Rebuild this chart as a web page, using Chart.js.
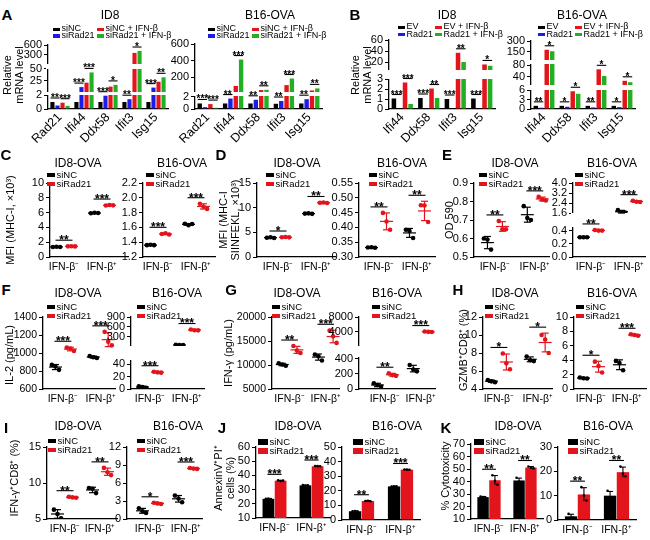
<!DOCTYPE html>
<html><head><meta charset="utf-8">
<script src="https://cdn.jsdelivr.net/npm/chart.js@4.4.1/dist/chart.umd.min.js"></script>
<style>
html,body{margin:0;padding:0;background:#fff;}
body{position:relative;width:650px;height:540px;overflow:hidden;font-family:'Liberation Sans',Arial,Helvetica,sans-serif;color:#000;}
canvas{position:absolute;}
.t{position:absolute;white-space:pre;line-height:1.05;text-align:center;}
.m{position:absolute;}
</style></head><body>
<script>
// ================= DATA =================
const GROUPS = ['IFN-\u03B2\u207B', 'IFN-\u03B2\u207A'];
const CONDS = ['siNC', 'siRad21'];

const A_GENES = ['Rad21', 'Ifi44', 'Ddx58', 'Ifit3', 'Isg15'];
const A_CONDS = ['siNC', 'siRad21', 'siNC + IFN-\u03B2', 'siRad21 + IFN-\u03B2'];
const A_ID8_siNC        = [1.0, 1.0, 1.0, 1.0, 1.0];
const A_ID8_siRad21     = [0.5, 12, 1.9, 1.4, 11];
const A_ID8_siNC_IFN    = [0.9, 21, 13, 350, 23];
const A_ID8_siRad21_IFN = [0.45, 42, 16.5, 410, 32];
const A_ID8_SIG   = [['**', '***'], ['***', '***'], ['***', '*'], ['**', '*'], ['***', '**']];
const A_ID8_TICKS = [0, 2, 25, 50, 300, 600];
const A_B16_siNC        = [0.9, 0.9, 0.9, 0.85, 0.9];
const A_B16_siRad21     = [0.3, 1.7, 1.5, 1.3, 1.6];
const A_B16_siNC_IFN    = [0.8, 95, 45, 105, 40];
const A_B16_siRad21_IFN = [0.2, 415, 48, 185, 65];
const A_B16_SIG   = [['***', '***'], ['**', '***'], ['**', '**'], ['**', '***'], ['**', '**']];
const A_B16_TICKS = [0, 2, 200, 400, 600];

const B_GENES = ['Ifi44', 'Ddx58', 'Ifit3', 'Isg15'];
const B_CONDS = ['EV', 'Rad21', 'EV + IFN-\u03B2', 'Rad21 + IFN-\u03B2'];
const B_ID8_EV        = [1.05, 1.1, 1.0, 1.05];
const B_ID8_Rad21     = [0.05, 0.06, 0.05, 0.05];
const B_ID8_EV_IFN    = [2.65, 2.05, 37, 15.5];
const B_ID8_Rad21_IFN = [0.5, 1.1, 20, 13];
const B_ID8_SIG   = [['***', '***'], ['***', '**'], ['***', '**'], ['***', '*']];
const B_ID8_TICKS = [0, 1, 2, 3, 20, 40, 60];
const B_B16_EV        = [1.0, 1.0, 1.0, 1.0];
const B_B16_Rad21     = [0.4, 0.7, 0.5, 0.6];
const B_B16_EV_IFN    = [180, 5.6, 66, 25];
const B_B16_Rad21_IFN = [160, 4.8, 42, 20];
const B_B16_SIG   = [['**', '*'], ['*', '*'], ['**', '*'], ['*', '*']];
const B_B16_TICKS = [0, 3, 6, 40, 80, 150, 300];

// replicates: [IFN-β⁻ triplicate, IFN-β⁺ triplicate]
const C_ID8_siNC    = [[1.35, 1.38, 1.36], [5.92, 5.97, 5.95]];
const C_ID8_siRad21 = [[1.44, 1.46, 1.43], [6.95, 7.02, 6.98]];
const C_ID8_TICKS = [0, 2, 4, 6, 8, 10];
const C_ID8_SIG = ['**', '***'];
const C_B16_siNC    = [[1.36, 1.365, 1.36], [1.65, 1.63, 1.645]];
const C_B16_siRad21 = [[1.51, 1.52, 1.505], [1.92, 1.88, 1.85]];
const C_B16_TICKS = [1.2, 1.4, 1.6, 1.8, 2.0, 2.2];
const C_B16_SIG = ['***', '***'];

const D_ID8_siNC    = [[3.9, 4.0, 3.85], [8.8, 8.85, 8.75]];
const D_ID8_siRad21 = [[4.0, 4.05, 3.98], [11.0, 11.05, 10.95]];
const D_ID8_TICKS = [0, 5, 10, 15];
const D_ID8_SIG = ['*', '**'];
const D_B16_siNC    = [[0.332, 0.333, 0.331], [0.392, 0.388, 0.364]];
const D_B16_siRad21 = [[0.449, 0.42, 0.392], [0.475, 0.474, 0.418]];
const D_B16_TICKS = [0.30, 0.35, 0.40, 0.45, 0.50, 0.55];
const D_B16_SIG = ['**', '**'];

const E_ID8_siNC    = [[0.60, 0.594, 0.54], [0.775, 0.711, 0.70]];
const E_ID8_siRad21 = [[0.695, 0.65, 0.65], [0.825, 0.81, 0.806]];
const E_ID8_TICKS = [0.5, 0.6, 0.7, 0.8, 0.9];
const E_ID8_SIG = ['**', '***'];
const E_B16_siNC    = [[0.30, 0.30, 0.30], [1.85, 1.68, 1.65]];
const E_B16_siRad21 = [[0.41, 0.40, 0.40], [2.6, 2.52, 2.5]];
const E_B16_TICKS = [0, 0.2, 0.4, 1.6, 2.4, 3.2, 4.0];
const E_B16_SIG = ['**', '***'];

const F_ID8_siNC    = [[868, 850, 813], [967, 952, 945]];
const F_ID8_siRad21 = [[1060, 1050, 1022], [1235, 1125, 1085]];
const F_ID8_TICKS = [600, 800, 1000, 1200, 1400];
const F_ID8_SIG = ['***', '***'];
const F_B16_siNC    = [[4.5, 3, 2], [55, 50, 48]];
const F_B16_siRad21 = [[28, 27, 26.5], [520, 500, 495]];
const F_B16_TICKS = [0, 20, 40, 300, 600, 900];
const F_B16_SIG = ['***', '***'];

const G_ID8_siNC    = [[10350, 10100, 9850], [12200, 11800, 10950]];
const G_ID8_siRad21 = [[13950, 13000, 12500], [17200, 16000, 14600]];
const G_ID8_TICKS = [5000, 10000, 15000, 20000];
const G_ID8_SIG = ['**', '***'];
const G_B16_siNC    = [[76, 53, 31], [320, 260, 235]];
const G_B16_siRad21 = [[210, 185, 175], [4080, 4000, 3980]];
const G_B16_TICKS = [0, 200, 400, 4000, 8000];
const G_B16_SIG = ['**', '***'];

const H_ID8_siNC    = [[5.0, 4.85, 4.75], [7.6, 7.2, 7.1]];
const H_ID8_siRad21 = [[7.95, 6.85, 6.2], [10.0, 9.5, 8.0]];
const H_ID8_TICKS = [4, 6, 8, 10, 12];
const H_ID8_SIG = ['*', '*'];
const H_B16_siNC    = [[1.6, 1.5, 1.45], [3.9, 3.6, 2.6]];
const H_B16_siRad21 = [[3.8, 3.2, 2.3], [7.6, 7.5, 7.4]];
const H_B16_TICKS = [0, 2, 4, 6, 8, 10];
const H_B16_SIG = ['*', '***'];

const I_ID8_siNC    = [[6.3, 5.7, 5.1], [9.3, 9.2, 8.6]];
const I_ID8_siRad21 = [[8.1, 8.0, 7.95], [12.1, 11.5, 11.1]];
const I_ID8_TICKS = [5, 10, 15];
const I_ID8_SIG = ['**', '**'];
const I_B16_siNC    = [[1.8, 1.3, 1.0], [3.9, 3.4, 2.8]];
const I_B16_siRad21 = [[2.7, 2.6, 2.5], [8.5, 8.4, 8.35]];
const I_B16_TICKS = [0, 3, 6, 9, 12];
const I_B16_SIG = ['*', '***'];

const J_ID8_siNC    = [[23.5, 23.7, 23.3], [33.2, 32.8, 33.0]];
const J_ID8_siRad21 = [[36.5, 36.0, 36.3], [46.6, 46.5, 46.4]];
const J_ID8_TICKS = [10, 20, 30, 40, 50, 60];
const J_ID8_SIG = ['***', '***'];
const J_B16_siNC    = [[6.0, 6.1, 5.9], [22.9, 23.0, 23.1]];
const J_B16_siRad21 = [[13.0, 13.2, 12.8], [34.6, 34.5, 34.4]];
const J_B16_TICKS = [0, 10, 20, 30, 40, 50];
const J_B16_SIG = ['**', '***'];

const K_ID8_siNC    = [[28, 27.5, 27], [43, 40, 39.5]];
const K_ID8_siRad21 = [[45, 40.5, 37.5], [52, 51, 50.5]];
const K_ID8_TICKS = [10, 20, 30, 40, 50, 60, 70];
const K_ID8_SIG = ['**', '**'];
const K_B16_siNC    = [[2.5, 1, 1], [12, 9, 9]];
const K_B16_siRad21 = [[13.5, 10, 8], [22, 19, 18]];
const K_B16_TICKS = [0, 10, 20, 30];
const K_B16_SIG = ['**', '**'];

// ================= STYLE / HELPERS =================
const FONT = "'Liberation Sans', Arial, Helvetica, sans-serif";
const BLK = '#000', RED = '#e3141b', BLUE = '#1c1ce6', GREEN = '#22b022';
const COL4 = [BLK, BLUE, RED, GREEN];
const COL2 = [BLK, RED];
const TICK_FS = 11;

Chart.defaults.font.family = FONT;
Chart.defaults.color = '#000';
Chart.defaults.animation = false;
Chart.defaults.responsive = false;
Chart.defaults.maintainAspectRatio = false;
Chart.defaults.devicePixelRatio = 1;
Chart.defaults.events = [];
Chart.defaults.plugins.legend.display = false;
Chart.defaults.plugins.tooltip.enabled = false;

const Base = Chart.LinearScale || Chart.registry.getScale('linear');
class BrokenScale extends Base {
  getPixelForValue(v) {
    const S = this.chart.canvas._segs;
    if (!S || v === null || v === undefined || isNaN(v)) return super.getPixelForValue(v);
    let d = 0;
    for (let i = 0; i < S.length; i++) {
      const a = S[i];
      if (v <= a.max || i === S.length - 1) {
        if (i > 0 && v < a.min) d = S[i - 1].to;
        else d = a.from + (v - a.min) / (a.max - a.min) * (a.to - a.from);
        break;
      }
    }
    return this.getPixelForDecimal(d);
  }
}
BrokenScale.id = 'broken';
BrokenScale.defaults = Base.defaults;
Chart.register(BrokenScale);

const mean = a => a.reduce((s, v) => s + v, 0) / a.length;
const sdev = a => { const m = mean(a); return Math.sqrt(a.reduce((s, v) => s + (v - m) * (v - m), 0) / (a.length - 1)); };
function line(ctx, x0, y0, x1, y1) { ctx.beginPath(); ctx.moveTo(x0, y0); ctx.lineTo(x1, y1); ctx.stroke(); }
function drawSig(ctx, x0, x1, y, lab, fs) {
  ctx.strokeStyle = '#000'; ctx.lineWidth = 1.1;
  line(ctx, x0, y, x1, y);
  ctx.fillStyle = '#000'; ctx.font = 'bold ' + fs + 'px ' + FONT;
  ctx.textAlign = 'center'; ctx.textBaseline = 'alphabetic';
  ctx.fillText(lab, (x0 + x1) / 2, y + fs * 0.42 - 1.2);
}

function place(L, R, T, B, hX, padTop = 14, padRight = 5, wY = 40) {
  L = Math.round(L); R = Math.round(R); T = Math.round(T); B = Math.round(B);
  const c = document.createElement('canvas');
  const w = wY + (R - L) + padRight, h = padTop + (B - T) + hX;
  c.width = w; c.height = h;
  c.style.left = (L - wY) + 'px'; c.style.top = (T - padTop) + 'px';
  c.style.width = w + 'px'; c.style.height = h + 'px';
  document.body.appendChild(c);
  return { c, L, R, T, B, hX, padTop, padRight, wY };
}
function setSegs(g, segs) {
  if (!segs) return;
  const H = g.B - g.T;
  g.c._segs = segs.map(s => ({ min: s[0], max: s[1], from: (g.B - s[2]) / H, to: (g.B - s[3]) / H }));
}
function extras(draw) {
  return { id: 'extras', afterDatasetsDraw(chart) {
    const ctx = chart.ctx, ca = chart.chartArea, S = chart.canvas._segs;
    ctx.save();
    if (S) {
      const H = ca.bottom - ca.top;
      for (let i = 0; i < S.length - 1; i++) {
        const yLow = ca.bottom - S[i].to * H, yUp = ca.bottom - S[i + 1].from * H;
        ctx.clearRect(ca.left - 2, yUp, ca.right - ca.left + 4, yLow - yUp);
      }
    }
    if (draw) draw(chart, ctx, chart.scales.x, chart.scales.y);
    ctx.restore();
  } };
}
function yAxis(g, ticks, dec, segs, fs) {
  return {
    type: segs ? 'broken' : 'linear',
    min: segs ? segs[0][0] : ticks[0],
    max: segs ? segs[segs.length - 1][1] : ticks[ticks.length - 1],
    afterBuildTicks: s => { s.ticks = ticks.map(v => ({ value: v })); },
    afterFit: s => { s.width = g.wY; },
    ticks: { autoSkip: false, padding: 2, color: '#000', font: { size: fs }, callback: v => Number(v).toFixed(dec) },
    grid: { display: true, drawOnChartArea: false, drawTicks: true, tickLength: 4, color: '#000', lineWidth: 1 },
    border: { display: true, color: '#000', width: 1.3 }
  };
}
function layoutPad(g) { return { padding: { top: g.padTop, right: g.padRight, left: 0, bottom: 0 } }; }

// ---- 4-series grouped bars (A, B)
function barChart4(geo, labels, series, ticks, segs, sigs) {
  const [L, R, T, B] = geo;
  const g = place(L, R, T, B, 40);
  setSegs(g, segs);
  const draw = (chart, ctx, xs, ys) => {
    sigs.forEach((pair, ci) => {
      [[0, 1], [2, 3]].forEach(([a, b], k) => {
        const lab = pair[k]; if (!lab) return;
        const ea = chart.getDatasetMeta(a).data[ci], eb = chart.getDatasetMeta(b).data[ci];
        const top = Math.max(series[a][ci], series[b][ci]);
        const y = ys.getPixelForValue(top) - 4;
        drawSig(ctx, ea.x - 2, eb.x + 2, y, lab, 10);
      });
    });
  };
  new Chart(g.c, {
    type: 'bar',
    data: { labels, datasets: series.map((d, i) => ({ data: d, backgroundColor: COL4[i], borderWidth: 0, categoryPercentage: 0.84, barPercentage: 0.82 })) },
    options: {
      layout: layoutPad(g),
      scales: {
        x: { type: 'category', afterFit: s => { s.height = g.hX; },
             ticks: { autoSkip: false, minRotation: 45, maxRotation: 45, padding: 1, color: '#000', font: { size: 12.5 } },
             grid: { display: false, drawTicks: false }, border: { display: true, color: '#000', width: 1.3 } },
        y: yAxis(g, ticks, 0, segs, TICK_FS)
      }
    },
    plugins: [extras(draw)]
  });
}

// ---- dot plots (C–I)
function dotChart(geo, series, ticks, dec, segs, sigs, fs = TICK_FS) {
  const [L, R, T, B, g0, g1] = geo;
  const g = place(L, R, T, B, 22);
  setSegs(g, segs);
  const sp = g1 - g0, co = 7.5 / sp, jo = 3.6 / sp;
  const xmin = -(g0 - L) / sp, xmax = 1 + (R - g1) / sp;
  const datasets = series.map((ser, c) => ({
    data: ser.flatMap((reps, gi) => reps.map((v, k) => ({ x: gi + (c ? 1 : -1) * co + (k - 1) * jo, y: v }))),
    backgroundColor: COL2[c], borderColor: COL2[c], borderWidth: 0, pointRadius: 2.3
  }));
  const draw = (chart, ctx, xs, ys) => {
    ctx.lineWidth = 1.2;
    series.forEach((ser, c) => ser.forEach((reps, gi) => {
      const m = mean(reps), s = sdev(reps), cx = xs.getPixelForValue(gi + (c ? 1 : -1) * co);
      const ym = ys.getPixelForValue(m), yt = ys.getPixelForValue(m + s), yb = ys.getPixelForValue(m - s);
      ctx.strokeStyle = COL2[c];
      line(ctx, cx - 6.5, ym, cx + 6.5, ym);
      line(ctx, cx, yt, cx, yb);
      line(ctx, cx - 3.5, yt, cx + 3.5, yt);
      line(ctx, cx - 3.5, yb, cx + 3.5, yb);
    }));
    sigs.forEach((lab, gi) => {
      let top = -Infinity;
      series.forEach(ser => { const r = ser[gi]; top = Math.max(top, ...r, mean(r) + sdev(r)); });
      const y = ys.getPixelForValue(top) - 6;
      drawSig(ctx, xs.getPixelForValue(gi - co) - 1, xs.getPixelForValue(gi + co) + 1, y, lab, 12);
    });
  };
  new Chart(g.c, {
    type: 'scatter',
    data: { datasets },
    options: {
      layout: layoutPad(g),
      scales: {
        x: { type: 'linear', min: xmin, max: xmax,
             afterBuildTicks: s => { s.ticks = [{ value: 0 }, { value: 1 }]; },
             afterFit: s => { s.height = g.hX; },
             ticks: { autoSkip: false, minRotation: 0, maxRotation: 0, padding: 4, color: '#000', font: { size: 10.5 }, callback: (v, i) => GROUPS[i] },
             grid: { display: false, drawTicks: false }, border: { display: true, color: '#000', width: 1.3 } },
        y: yAxis(g, ticks, dec, segs, fs)
      }
    },
    plugins: [extras(draw)]
  });
}

// ---- 2-series bars with replicate dots (J, K)
function barChart2(geo, series, ticks, sigs) {
  const [L, R, T, B] = geo;
  const g = place(L, R, T, B, 22);
  const draw = (chart, ctx, xs, ys) => {
    ctx.lineWidth = 1.1; ctx.strokeStyle = '#000'; ctx.fillStyle = '#000';
    series.forEach((ser, c) => ser.forEach((reps, gi) => {
      const el = chart.getDatasetMeta(c).data[gi], cx = el.x;
      const m = mean(reps), s = sdev(reps);
      const yt = ys.getPixelForValue(m + s), yb = ys.getPixelForValue(m - s);
      line(ctx, cx, yt, cx, yb); line(ctx, cx - 3, yt, cx + 3, yt);
      reps.forEach((v, k) => { ctx.beginPath(); ctx.arc(cx + (k - 1) * 2.5, ys.getPixelForValue(v), 1.3, 0, Math.PI * 2); ctx.fill(); });
    }));
    sigs.forEach((lab, gi) => {
      let top = -Infinity;
      series.forEach(ser => { const r = ser[gi]; top = Math.max(top, ...r, mean(r) + sdev(r)); });
      const y = ys.getPixelForValue(top) - 6;
      const e0 = chart.getDatasetMeta(0).data[gi], e1 = chart.getDatasetMeta(1).data[gi];
      drawSig(ctx, e0.x - 1, e1.x + 1, y, lab, 12);
    });
  };
  new Chart(g.c, {
    type: 'bar',
    data: { labels: GROUPS, datasets: series.map((ser, c) => ({ data: ser.map(mean), backgroundColor: COL2[c], borderWidth: 0, categoryPercentage: 0.66, barPercentage: 0.96 })) },
    options: {
      layout: layoutPad(g),
      scales: {
        x: { type: 'category', afterFit: s => { s.height = g.hX; },
             ticks: { autoSkip: false, minRotation: 0, maxRotation: 0, padding: 4, color: '#000', font: { size: 10.5 } },
             grid: { display: false, drawTicks: false }, border: { display: true, color: '#000', width: 1.3 } },
        y: yAxis(g, ticks, 0, null, TICK_FS)
      }
    },
    plugins: [extras(draw)]
  });
}

// ---- HTML text helpers
function txt(s, x, y, size, opt = {}) {
  const d = document.createElement('div');
  d.className = 't'; d.textContent = s;
  d.style.fontSize = size + 'px';
  d.style.left = x + 'px'; d.style.top = y + 'px';
  if (opt.bold) d.style.fontWeight = 'bold';
  if (opt.lh) d.style.lineHeight = opt.lh + 'px';
  d.style.transform = opt.rot ? 'translate(-50%,-50%) rotate(-90deg)' : (opt.left ? 'translate(0,-50%)' : 'translate(-50%,-50%)');
  if (opt.left) d.style.textAlign = 'left';
  document.body.appendChild(d);
}
function mark(x, y, w, h, col) {
  const d = document.createElement('div');
  d.className = 'm';
  d.style.left = x + 'px'; d.style.top = (y - h / 2) + 'px';
  d.style.width = w + 'px'; d.style.height = h + 'px'; d.style.background = col;
  document.body.appendChild(d);
}
function legendItem(x, y, label, col, mw, mh, fs) {
  mark(x, y, mw, mh, col);
  txt(label, x + mw + 1.5, y, fs, { left: true });
}
function legend4(x0, x1, y0, dy, names) {
  legendItem(x0, y0, names[0], COL4[0], 7, 3.5, 9);
  legendItem(x0, y0 + dy, names[1], COL4[1], 7, 3.5, 9);
  legendItem(x1, y0, names[2], COL4[2], 7, 3.5, 9);
  legendItem(x1, y0 + dy, names[3], COL4[3], 7, 3.5, 9);
}
function legend2(x, y, big) {
  const mw = big ? 10 : 8, mh = big ? 6 : 4;
  legendItem(x, y, CONDS[0], COL2[0], mw, mh, 9.5);
  legendItem(x, y + 9, CONDS[1], COL2[1], mw, mh, 9.5);
}

// ================= LAYOUT =================
// Panel A
barChart4([48, 168, 45, 109], A_GENES, [A_ID8_siNC, A_ID8_siRad21, A_ID8_siNC_IFN, A_ID8_siRad21_IFN], A_ID8_TICKS,
  [[0, 2, 109, 95], [2, 50, 92, 68.5], [0, 600, 64, 45]], A_ID8_SIG);
barChart4([195, 322, 44, 109], A_GENES, [A_B16_siNC, A_B16_siRad21, A_B16_siNC_IFN, A_B16_siRad21_IFN], A_B16_TICKS,
  [[0, 2.2, 109, 95.5], [25, 600, 91.7, 44.3]], A_B16_SIG);
// Panel B
barChart4([389, 495, 40, 109], B_GENES, [B_ID8_EV, B_ID8_Rad21, B_ID8_EV_IFN, B_ID8_Rad21_IFN], B_ID8_TICKS,
  [[0, 3, 109, 79], [6, 60, 69.6, 40.3]], B_ID8_SIG);
barChart4([531, 635, 41, 109], B_GENES, [B_B16_EV, B_B16_Rad21, B_B16_EV_IFN, B_B16_Rad21_IFN], B_B16_TICKS,
  [[0, 6, 109, 90], [10, 85, 85, 64], [40, 300, 60, 41]], B_B16_SIG);

// Row C–E
dotChart([50, 128, 183, 257, 64, 102], [C_ID8_siNC, C_ID8_siRad21], C_ID8_TICKS, 0, null, C_ID8_SIG);
dotChart([143, 215, 183, 257, 158, 196], [C_B16_siNC, C_B16_siRad21], C_B16_TICKS, 1, null, C_B16_SIG);
dotChart([257, 335, 183, 257, 278, 316], [D_ID8_siNC, D_ID8_siRad21], D_ID8_TICKS, 0, null, D_ID8_SIG);
dotChart([359, 435, 183, 257, 379, 417], [D_B16_siNC, D_B16_siRad21], D_B16_TICKS, 2, null, D_B16_SIG);
dotChart([474, 550, 183, 257, 495, 535], [E_ID8_siNC, E_ID8_siRad21], E_ID8_TICKS, 1, null, E_ID8_SIG);
dotChart([573, 645, 183, 257, 591, 629], [E_B16_siNC, E_B16_siRad21], E_B16_TICKS, 1,
  [[0, 0.45, 257, 227.3], [1.6, 4.0, 213.3, 183]], E_B16_SIG);
// Row F–H
dotChart([43, 116, 317, 389, 63, 101], [F_ID8_siNC, F_ID8_siRad21], F_ID8_TICKS, 0, null, F_ID8_SIG, 10.5);
dotChart([131, 204, 317, 389, 150, 187], [F_B16_siNC, F_B16_siRad21], F_B16_TICKS, 0,
  [[0, 47, 389, 360], [20, 900, 346, 317]], F_B16_SIG);
dotChart([272, 341, 317, 389, 290, 327], [G_ID8_siNC, G_ID8_siRad21], G_ID8_TICKS, 0, null, G_ID8_SIG, 10.5);
dotChart([359, 436, 317, 389, 385, 421], [G_B16_siNC, G_B16_siRad21], G_B16_TICKS, 0,
  [[0, 430, 389, 356.7], [300, 8000, 345.6, 317]], G_B16_SIG);
dotChart([483, 553, 317, 389, 499, 538], [H_ID8_siNC, H_ID8_siRad21], H_ID8_TICKS, 0, null, H_ID8_SIG);
dotChart([574, 646, 317, 389, 591, 627], [H_B16_siNC, H_B16_siRad21], H_B16_TICKS, 0, null, H_B16_SIG);
// Row I–K
dotChart([47, 117, 447, 519, 65, 100], [I_ID8_siNC, I_ID8_siRad21], I_ID8_TICKS, 0, null, I_ID8_SIG);
dotChart([127, 202, 447, 519, 150, 186], [I_B16_siNC, I_B16_siRad21], I_B16_TICKS, 0, null, I_B16_SIG);
barChart2([256, 330, 447, 518], [J_ID8_siNC, J_ID8_siRad21], J_ID8_TICKS, J_ID8_SIG);
barChart2([342, 420, 447, 520], [J_B16_siNC, J_B16_siRad21], J_B16_TICKS, J_B16_SIG);
barChart2([471, 543, 444, 519], [K_ID8_siNC, K_ID8_siRad21], K_ID8_TICKS, K_ID8_SIG);
barChart2([558, 636, 447, 520], [K_B16_siNC, K_B16_siRad21], K_B16_TICKS, K_B16_SIG);

// ---- texts: panel letters
[['A', 7, 15], ['B', 355, 15], ['C', 6, 155], ['D', 221, 155], ['E', 447, 155],
 ['F', 6, 290], ['G', 231, 290], ['H', 458, 290], ['I', 6, 428], ['J', 222, 428], ['K', 446, 428]]
  .forEach(([s, x, y]) => txt(s, x, y, 15, { bold: true }));

// ---- titles
[['ID8', 110, 15], ['B16-OVA', 270, 15], ['ID8', 447, 15], ['B16-OVA', 582, 15],
 ['ID8-OVA', 78, 163], ['B16-OVA', 182, 163], ['ID8-OVA', 297, 163], ['B16-OVA', 402, 163], ['ID8-OVA', 515, 163], ['B16-OVA', 612, 163],
 ['ID8-OVA', 78, 293], ['B16-OVA', 177, 293], ['ID8-OVA', 297, 293], ['B16-OVA', 397, 293], ['ID8-OVA', 515, 293], ['B16-OVA', 612, 293],
 ['ID8-OVA', 78, 426], ['B16-OVA', 178, 426], ['ID8-OVA', 298, 426], ['B16-OVA', 397, 426], ['ID8-OVA', 518, 426], ['B16-OVA', 608, 426]]
  .forEach(([s, x, y]) => txt(s, x, y, 12));

// ---- y-axis titles
[['Relative\nmRNA level', 13, 75], ['Relative\nmRNA level', 361, 75],
 ['MFI (MHC-I, \u00D710\u00B3)', 10, 220], ['MFI (MHC-I\nSIINFEKL, \u00D710\u00B3)', 229, 220], ['OD 590', 449, 220],
 ['IL-2 (pg/mL)', 9, 355], ['IFN-\u03B3 (pg/mL)', 228, 353], ['GZMB\u207ACD8\u207A (%)', 463, 350],
 ['IFN-\u03B3\u207ACD8\u207A (%)', 14, 478], ['AnnexinV\u207API\u207A\ncells (%)', 224, 478], ['% Cytotoxicity', 445, 476]]
  .forEach(([s, x, y]) => txt(s, x, y, 11, { rot: true, lh: 12 }));

// ---- legends
legend4(53, 97, 29.3, 6.6, A_CONDS);
legend4(208, 252, 29.3, 6.6, A_CONDS);
legend4(398, 435, 27.3, 7.4, B_CONDS);
legend4(538, 575, 27.3, 7.4, B_CONDS);
[[47, 175], [146, 175], [266, 174.5], [369, 174.5], [479, 174.5], [575, 174.5],
 [47, 307.3], [137, 307.3], [272, 307.3], [372, 307.3], [485, 307.3], [576, 307.3],
 [48, 440.7], [137, 440.7]].forEach(([x, y]) => legend2(x, y, false));
[[258, 441.7], [353, 441.7], [474, 441.7], [568, 441.7]].forEach(([x, y]) => legend2(x, y, true));
</script>
</body></html>
